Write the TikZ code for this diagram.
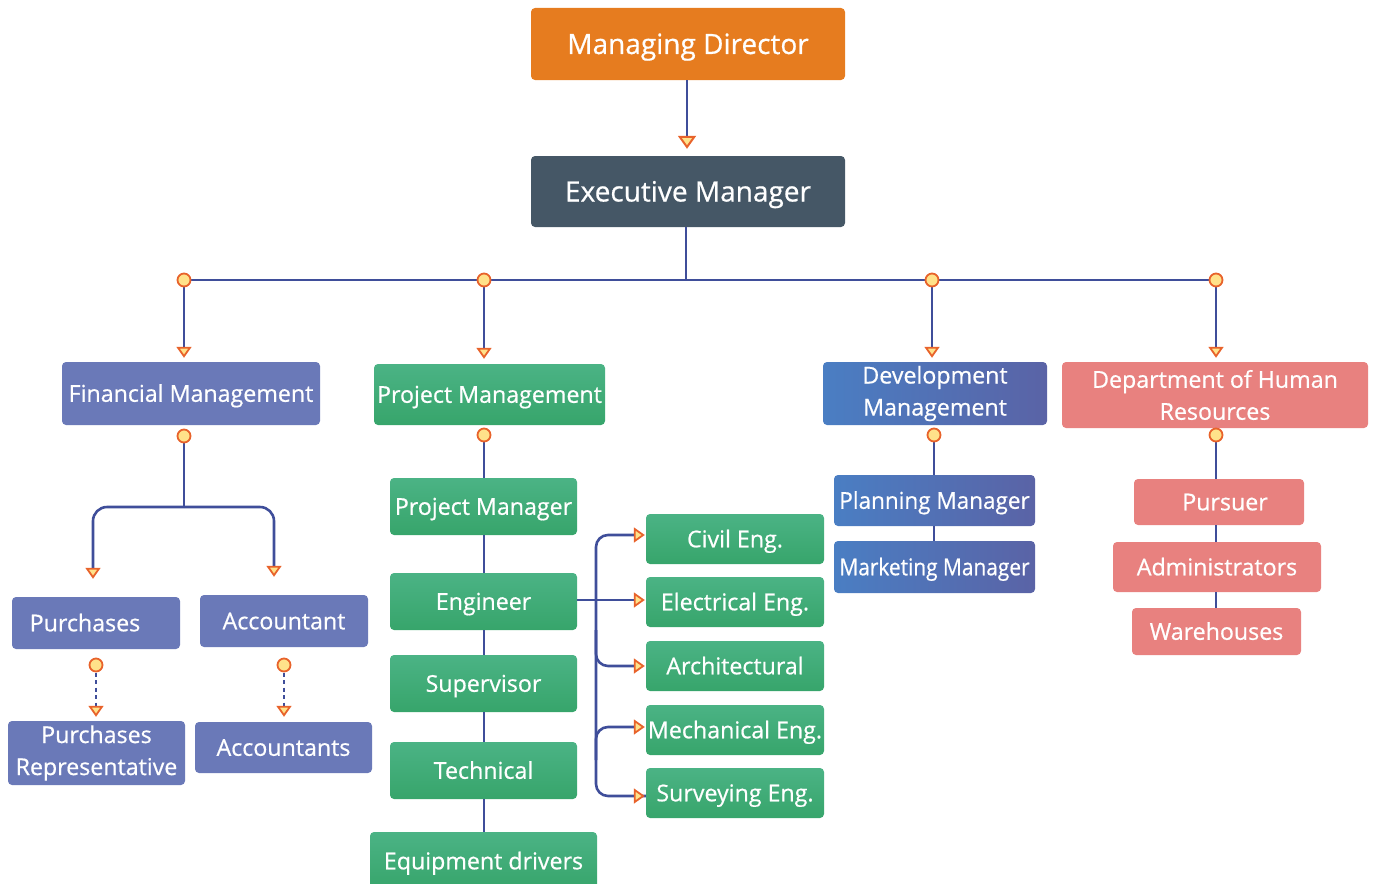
\documentclass[tikz,border=0pt]{standalone}
\usepackage{fontspec}
\setmainfont{Open Sans}[FakeBold=0.6]
\usetikzlibrary{arrows.meta}
\definecolor{orangec}{HTML}{E67C1F}
\definecolor{slatec}{HTML}{455766}
\definecolor{finc}{HTML}{6A79B8}
\definecolor{greentop}{HTML}{4BB385}
\definecolor{greenbot}{HTML}{37A56B}
\definecolor{devl}{HTML}{4A7EC3}
\definecolor{devr}{HTML}{5A63A6}
\definecolor{salmonc}{HTML}{E8817F}
\definecolor{linec}{HTML}{3F4E9A}
\definecolor{tipfill}{HTML}{FFE28A}
\definecolor{tipdraw}{HTML}{E8632B}
\begin{document}
\begin{tikzpicture}[x=1pt,y=-1pt,
  box/.style={rounded corners=4pt, text=white, align=center, inner sep=0pt,
    font=\fontsize{23.2}{32}\selectfont, text height=16.6pt, text depth=0pt},
  two/.style={text height={}, text depth={}},
  big/.style={font=\fontsize{28}{34}\selectfont, text height=20pt, text depth=0pt},
  sz/.style 2 args={minimum width=#1, minimum height=#2},
  fin/.style={box, fill=finc},
  grn/.style={box, top color=greentop, bottom color=greenbot},
  dev/.style={box, left color=devl, right color=devr},
  hr/.style={box, fill=salmonc},
  conn/.style={draw=linec, line width=2.6pt},
  arr/.style={conn, -{Triangle[width=15pt,length=11pt,fill=tipfill,color=tipdraw,line width=1.8pt]}},
  bigarr/.style={conn, -{Triangle[width=18pt,length=13pt,fill=tipfill,color=tipdraw,line width=2pt]}},
  dot/.style={circle, inner sep=0pt, minimum size=13pt, fill=tipfill, draw=tipdraw, line width=1.8pt},
  dotted line/.style={dash pattern=on 4pt off 3.5pt}
]
\useasboundingbox (0,0) rectangle (1375,883);

% top
\node[box, big, fill=orangec, sz={314pt}{72pt}] (md) at (688,44) {Managing Director};
\node[box, big, fill=slatec, sz={314pt}{71pt}] (em) at (688,191.5) {Executive Manager};

% level 2
\node[fin, sz={258pt}{63pt}] (fm) at (191,393.5) {Financial Management};
\node[grn, sz={231pt}{61pt}] (pm) at (489.5,394.5) {Project Management};
\node[dev, two, sz={224pt}{63pt}] (dm) at (935,393.5) {Development\\Management};
\node[hr, two, sz={306pt}{66pt}] (hrd) at (1215,395) {Department of Human\\Resources};

% financial
\node[fin, sz={168pt}{52pt}] (pur) at (96,623) {\hspace*{-22pt}Purchases};
\node[fin, sz={168pt}{52pt}] (acc) at (284,621) {Accountant};
\node[fin, two, sz={177pt}{64pt}] (prep) at (96.5,753) {Purchases\\Representative};
\node[fin, sz={177pt}{51pt}] (accs) at (283.5,747.5) {Accountants};

% project
\node[grn, sz={187pt}{57pt}] (pmgr) at (483.5,506.5) {Project Manager};
\node[grn, sz={187pt}{57pt}] (eng) at (483.5,601.5) {Engineer};
\node[grn, sz={187pt}{57pt}] (sup) at (483.5,683.5) {Supervisor};
\node[grn, sz={187pt}{57pt}] (tech) at (483.5,770.5) {Technical};
\node[grn, sz={227pt}{58pt}] (equip) at (483.5,861) {Equipment drivers};

\node[grn, sz={178pt}{50pt}] (civ) at (735,539) {Civil Eng.};
\node[grn, sz={178pt}{50pt}] (elec) at (735,602) {Electrical Eng.};
\node[grn, sz={178pt}{50pt}] (arch) at (735,666) {Architectural};
\node[grn, sz={178pt}{50pt}] (mech) at (735,730) {Mechanical Eng.};
\node[grn, sz={178pt}{50pt}] (surv) at (735,793) {Surveying Eng.};

% development
\node[dev, sz={201pt}{51pt}] (plan) at (934.5,500.5) {\scalebox{0.97}[1]{Planning Manager}};
\node[dev, sz={201pt}{52pt}] (mkt) at (934.5,567) {\scalebox{0.9}[1]{Marketing Manager}};

% HR
\node[hr, sz={170pt}{46pt}] (purs) at (1219,502) {\hspace*{12pt}Pursuer};
\node[hr, sz={208pt}{50pt}] (adm) at (1217,567) {Administrators};
\node[hr, sz={169pt}{47pt}] (ware) at (1216.5,631.5) {Warehouses};

% coordinates
\coordinate (bus) at (686,280);
\coordinate (b1) at (184,280);
\coordinate (b2) at (484,280);
\coordinate (b3) at (932,280);
\coordinate (b4) at (1216,280);
\coordinate (fsplit) at (184,507);
\coordinate (fl) at (93,507);
\coordinate (fr) at (274,507);
\coordinate (brx) at (596,600);

% connectors
\draw[bigarr, shorten >=7pt] (md.south -| 687,0) -- (em.north -| 687,0);
\draw[conn] (em.south -| bus) -- (bus);
\draw[conn] (b1) -- (b4);
\draw[arr, shorten >=4pt] (b1) -- (b1 |- fm.north);
\draw[arr, shorten >=5pt] (b2) -- (b2 |- pm.north);
\draw[arr, shorten >=4pt] (b3) -- (b3 |- dm.north);
\draw[arr, shorten >=4pt] (b4) -- (b4 |- hrd.north);

% financial branch
\coordinate (fdot) at (184,436);
\draw[conn] (fdot) -- (fsplit);
\draw[arr, rounded corners=14pt, shorten >=18pt] (fsplit) -- (fl) -- (fl |- pur.north);
\draw[arr, rounded corners=14pt, shorten >=18pt] (fsplit) -- (fr) -- (fr |- acc.north);
\coordinate (pdot) at (96,665);
\coordinate (adot) at (284,665);
\draw[arr, dotted line, shorten >=4pt] (pdot) -- (pdot |- prep.north);
\draw[arr, dotted line, shorten >=5pt] (adot) -- (adot |- accs.north);

% project branch
\coordinate (pmdot) at (484,435);
\draw[conn] (pmdot) -- (pmdot |- pmgr.north);
\draw[conn] (pmgr.south -| 484,0) -- (eng.north -| 484,0);
\draw[conn] (eng.south -| 484,0) -- (sup.north -| 484,0);
\draw[conn] (sup.south -| 484,0) -- (tech.north -| 484,0);
\draw[conn] (tech.south -| 484,0) -- (equip.north -| 484,0);
\draw[arr, shorten >=1pt] (eng.east |- brx) -- (elec.west |- brx);
\draw[conn, rounded corners=12pt] (civ.west |- 0,535) ++(-8,0) -- (596,535) -- (596,796) -- (surv.west |- 0,796);
\draw[arr, shorten >=1pt] (civ.west |- 0,535) ++(-14,0) -- (civ.west |- 0,535);
\draw[arr, rounded corners=12pt, shorten >=1pt] (596,630) |- (arch.west |- 0,666);
\draw[arr, rounded corners=12pt, shorten >=1pt] (596,760) |- (mech.west |- 0,727);
\draw[arr, shorten >=1pt] (surv.west |- 0,796) ++(-14,0) -- (surv.west |- 0,796);

% development branch
\coordinate (ddot) at (934,435);
\draw[conn] (ddot) -- (ddot |- plan.north);
\draw[conn] (plan.south -| 934,0) -- (mkt.north -| 934,0);

% HR branch
\coordinate (hdot) at (1216,435);
\draw[conn] (hdot) -- (hdot |- purs.north);
\draw[conn] (purs.south -| 1216,0) -- (adm.north -| 1216,0);
\draw[conn] (adm.south -| 1216,0) -- (ware.north -| 1216,0);

% dots
\foreach \p in {b1,b2,b3,b4,fdot,pdot,adot,pmdot,ddot,hdot}
  \node[dot] at (\p) {};
\end{tikzpicture}
\end{document}
